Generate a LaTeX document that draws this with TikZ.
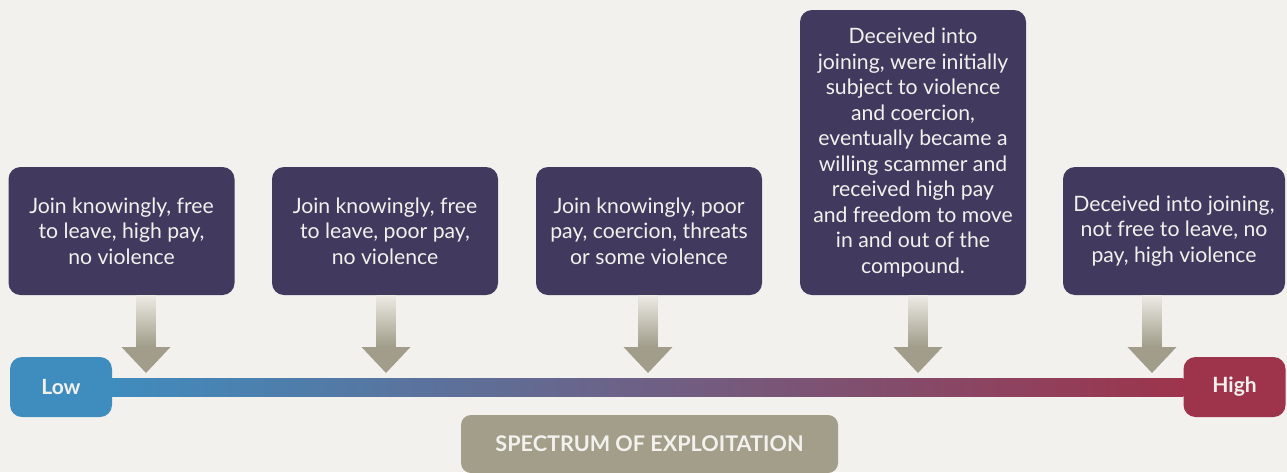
\documentclass[tikz,border=0pt]{standalone}
\usepackage{fontspec}
\setmainfont{Lato}
\usepackage{tikz}
\usetikzlibrary{calc}
\definecolor{pagebg}{HTML}{F3F1EE}
\definecolor{boxpurple}{HTML}{413A5E}
\definecolor{boxtext}{HTML}{F3F1EE}
\definecolor{lowblue}{HTML}{3F8CBE}
\definecolor{highred}{HTML}{9D344C}
\definecolor{tagtaupe}{HTML}{A39E8A}
\definecolor{arrowgray}{HTML}{A19D8A}
\definecolor{shafttop}{HTML}{ECEAE4}

\newcommand{\dropArrow}[2]{%
  \shade[top color=shafttop, bottom color=arrowgray]
    ($(#2 |- #1.south)+(-9.5,0)$) rectangle ($(#2)+(9.5,26)$);
  \fill[arrowgray] ($(#2)+(-24.5,26)$) -- ($(#2)+(24.5,26)$) -- (#2) -- cycle;
}

\begin{document}
\begin{tikzpicture}[
    x=1pt, y=1pt,
    every node/.style={font=\fontsize{21.2}{25.5}\selectfont},
    card/.style={rectangle, rounded corners=12pt, fill=boxpurple, text=boxtext,
                 minimum width=226pt, minimum height=128pt, align=center, inner sep=0pt},
    endcap/.style={rectangle, rounded corners=12pt, text=boxtext, font=\fontsize{21}{24}\bfseries,
                   minimum width=102pt, minimum height=60pt, inner sep=0pt},
    tag/.style={rectangle, rounded corners=10pt, fill=tagtaupe, text=boxtext,
                font=\fontsize{21.6}{24}\bfseries, minimum width=377pt, minimum height=58pt, inner sep=0pt},
  ]
  \fill[pagebg] (0,0) rectangle (1287,-472);
  \useasboundingbox (0,0) rectangle (1287,-472);

  % scenario cards
  \node[card] (c1) at (121.5,-231) {Join knowingly, free\\to leave, high pay,\\no violence};
  \node[card] (c2) at (385,-231) {Join knowingly, free\\to leave, poor pay,\\no violence};
  \node[card] (c3) at (649,-231) {Join knowingly, poor\\pay, coercion, threats\\or some violence};
  \node[card, minimum height=285pt] (c4) at (913,-152.5) {Deceived into\\joining, were initially\\subject to violence\\and coercion,\\eventually became a\\willing scammer and\\received high pay\\and freedom to move\\in and out of the\\compound.};
  \node[card, minimum width=222pt] (c5) at (1174,-231) {Deceived into joining,\\not free to leave, no\\pay, high violence};

  % scale ends and bar
  \node[endcap, fill=lowblue] (low) at (61,-387) {Low};
  \node[endcap, fill=highred] (high) at (1234.5,-387) {High};
  \shade[left color=lowblue, right color=highred]
    ($(low.east)+(0,9)$) rectangle ($(high.west)+(0,-9)$);

  \node[tag] (spectrum) at (649.5,-444) {SPECTRUM OF EXPLOITATION};

  % arrow tips on the bar
  \coordinate (t1) at (146,-373);
  \coordinate (t2) at (386,-373);
  \coordinate (t3) at (648,-373);
  \coordinate (t4) at (918,-373);
  \coordinate (t5) at (1152,-373);
  \foreach \i in {1,...,5} {\dropArrow{c\i}{t\i}}
\end{tikzpicture}
\end{document}
